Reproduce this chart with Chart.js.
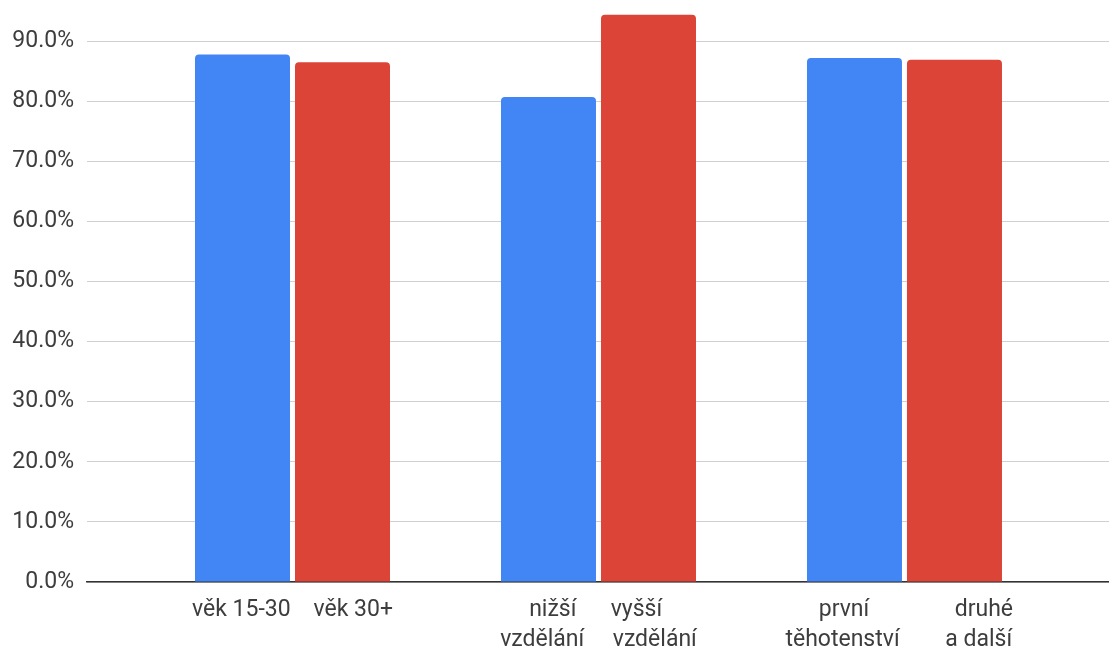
<!DOCTYPE html>
<html>
<head>
<meta charset="utf-8">
<script src="https://cdn.jsdelivr.net/npm/chart.js@4"></script>
<style>
  html, body { margin: 0; padding: 0; background: #fff; }
</style>
</head>
<body>
<canvas id="chart" width="1109" height="650"></canvas>
<script>
// group positions on the x axis and their two-line labels
const groups = [0, 1, 2];
const groupLabels = [
  ["věk 15-30    věk 30+"],
  ["nižší      vyšší ", "vzdělání     vzdělání"],
  ["    první               druhé", "těhotenství        a další  "]
];
// blue = first bar of each pair, red = second (percent)
const firstValues = [87.8, 80.7, 87.2];
const secondValues = [86.5, 94.4, 86.9];
const yTicks = [0, 10, 20, 30, 40, 50, 60, 70, 80, 90];

const textColor = "#3d3d3d";

const toPoints = (vals) => groups.map((g, i) => ({ x: g, y: vals[i] }));

const barStyle = {
  categoryPercentage: 0.6536,
  barPercentage: 0.95,
  borderRadius: { topLeft: 4, topRight: 4 },
  borderSkipped: "start",
  clip: false, // tallest bar rises above the plot area
};

new Chart(document.getElementById("chart"), {
  type: "bar",
  data: {
    datasets: [
      { data: toPoints(firstValues), backgroundColor: "#4285f4", ...barStyle },
      { data: toPoints(secondValues), backgroundColor: "#db4437", ...barStyle },
    ],
  },
  options: {
    responsive: false,
    animation: false,
    plugins: { legend: { display: false }, tooltip: { enabled: false } },
    scales: {
      x: {
        type: "linear",
        offset: false,
        min: -0.6716,
        max: 2.6684,
        grid: { display: false },
        border: { display: true, color: "#333333", width: 1.5 },
        afterBuildTicks: (scale) => {
          scale.ticks = groups.map((v) => ({ value: v }));
        },
        afterFit: (scale) => { scale.height = 68; },
        ticks: {
          autoSkip: false,
          maxRotation: 0,
          padding: 5,
          color: textColor,
          font: { family: "Roboto", size: 23, lineHeight: 1.3 },
          callback: (value) => groupLabels[value],
        },
      },
      y: {
        min: 0,
        max: 92.4,
        afterBuildTicks: (scale) => {
          scale.ticks = yTicks.map((v) => ({ value: v }));
        },
        afterFit: (scale) => { scale.width = 87; },
        grid: { color: "#d0d0d0", lineWidth: 1, drawTicks: false },
        border: { display: false },
        ticks: {
          padding: 13,
          color: textColor,
          font: { family: "Roboto", size: 23 },
          callback: (value) => value.toFixed(1) + "%",
        },
      },
    },
  },
});
</script>
</body>
</html>
